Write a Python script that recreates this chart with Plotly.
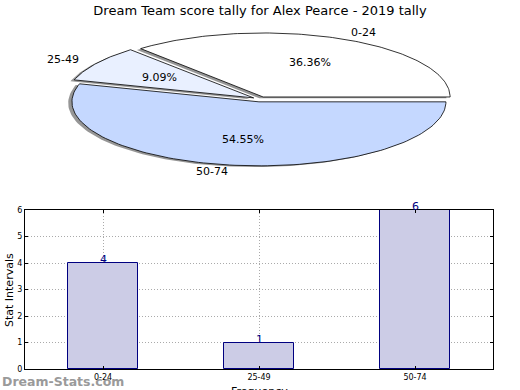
import numpy as np
import plotly.graph_objects as go

title = "Dream Team score tally for Alex Pearce - 2019 tally"
categories = ["0-24", "25-49", "50-74"]
counts = [4, 1, 6]
slice_colors = ["#FFFFFF", "#E9F0FF", "#C5D8FF"]
bar_fill = "#CCCCE6"
bar_edge = "#000080"

fig = go.Figure()

# ---- elliptical (squashed) exploded pie built from the counts ----
total = sum(counts)
fracs = [c / total for c in counts]
explode = 0.04
shadow_dx, shadow_dy = -0.02, -0.02
start = 0.0
wedges = []
for cat, f, col in zip(categories, fracs, slice_colors):
    t0, t1 = start, start + f * 2 * np.pi
    mid = (t0 + t1) / 2
    cx, cy = explode * np.cos(mid), explode * np.sin(mid)
    th = np.linspace(t0, t1, 120)
    xs = np.concatenate([[cx], cx + np.cos(th), [cx]])
    ys = np.concatenate([[cy], cy + np.sin(th), [cy]])
    wedges.append((cat, f, col, mid, cx, cy, xs, ys))
    start = t1

for cat, f, col, mid, cx, cy, xs, ys in wedges:
    fig.add_trace(go.Scatter(x=xs + shadow_dx, y=ys + shadow_dy, mode="lines",
                             fill="toself", fillcolor="rgba(80,80,80,0.6)",
                             line=dict(width=0), hoverinfo="skip", showlegend=False,
                             xaxis="x2", yaxis="y2"))
for cat, f, col, mid, cx, cy, xs, ys in wedges:
    fig.add_trace(go.Scatter(x=xs, y=ys, mode="lines", fill="toself", fillcolor=col,
                             line=dict(color="black", width=0.8), name=cat,
                             showlegend=False, xaxis="x2", yaxis="y2"))
    lx, ly = cx + 1.1 * np.cos(mid), cy + 1.1 * np.sin(mid)
    fig.add_annotation(x=lx, y=ly, xref="x2", yref="y2", text=cat, showarrow=False,
                       xanchor="left" if np.cos(mid) > 0 else "right", yanchor="middle",
                       font=dict(size=11, color="black"))
    px, py = cx + 0.6 * np.cos(mid), cy + 0.6 * np.sin(mid)
    fig.add_annotation(x=px, y=py, xref="x2", yref="y2", text=f"{f*100:.2f}%",
                       showarrow=False, xanchor="center", yanchor="middle",
                       font=dict(size=11, color="black"))

# ---- bar chart ----
fig.add_trace(go.Bar(x=categories, y=counts, width=0.45,
                     marker=dict(color=bar_fill, line=dict(color=bar_edge, width=1)),
                     showlegend=False, xaxis="x", yaxis="y", hoverinfo="x+y"))
for cat, c in zip(categories, counts):
    fig.add_annotation(x=cat, y=c, xref="x", yref="y", text=str(c), showarrow=False,
                       xanchor="center", yanchor="bottom", yshift=-5,
                       font=dict(size=11, color=bar_edge))

W, H = 520, 390
ax_grid = dict(showgrid=True, gridcolor="#aaaaaa", griddash="1px,2px", gridwidth=1,
               showline=True, linecolor="black", linewidth=1, mirror="ticks",
               ticks="inside", ticklen=3, tickcolor="black",
               tickfont=dict(size=8, color="black"), zeroline=False, automargin=False)

fig.update_layout(
    width=W, height=H, margin=dict(l=0, r=0, t=0, b=0, autoexpand=False),
    paper_bgcolor="white", plot_bgcolor="rgba(0,0,0,0)",
    font=dict(family="DejaVu Sans", color="black"),
    title=dict(text=title, x=0.5, xanchor="center", y=1 - 10 / H, yanchor="middle",
               font=dict(size=13, color="black"), automargin=False),
    xaxis=dict(domain=[25 / W, 493 / W], range=[-0.5, 2.5], **ax_grid),
    yaxis=dict(domain=[(H - 369) / H, (H - 210) / H], range=[0, 6], dtick=1, **ax_grid),
    xaxis2=dict(domain=[0, 1], range=[-260 / 187, 260 / 187], visible=False),
    yaxis2=dict(domain=[0.5, 1], range=[-(195 - 99.3) / 64, 99.3 / 64], visible=False),
    bargap=0.0,
)

fig.add_annotation(x=9 / W, y=(H - 290) / H, xref="paper", yref="paper",
                   text="Stat Intervals", textangle=-90, showarrow=False,
                   xanchor="center", yanchor="middle", font=dict(size=11))
fig.add_annotation(x=259 / W, y=(H - 383) / H, xref="paper", yref="paper",
                   text="Frequency", showarrow=False, xanchor="center", yanchor="top",
                   font=dict(size=11))
fig.add_annotation(x=0, y=(H - 381) / H, xref="paper", yref="paper",
                   text="<b>Dream-Stats.com</b>", showarrow=False, xanchor="left",
                   yanchor="middle", font=dict(size=12.5, color="#9a9a9a"))

fig.write_html("out.html", config={"displayModeBar": False},
               post_script="document.body.style.margin='0';document.body.style.padding='0';")
